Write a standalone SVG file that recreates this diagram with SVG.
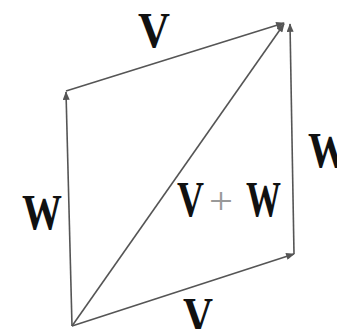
<svg xmlns="http://www.w3.org/2000/svg" width="337" height="329" viewBox="0 0 337 329">
<style>
.edge{stroke:#555;stroke-width:1.6;fill:none;marker-end:url(#ah)}
.lbl{font-family:"Liberation Serif","Times New Roman",serif;font-weight:bold;font-size:50px;fill:#111}
.plus{font-family:"Liberation Serif","Times New Roman",serif;font-size:38px;fill:#999}
</style>
<defs>
<marker id="ah" viewBox="0 0 10 8" refX="9" refY="4" markerWidth="10" markerHeight="7" markerUnits="userSpaceOnUse" orient="auto">
<path d="M0,0 L10,4 L0,8 z" fill="#555"/>
</marker>
</defs>
<rect width="337" height="329" fill="#fff"/>
<g id="connectors">
<line class="edge" x1="72" y1="326" x2="66" y2="92"/>
<line class="edge" x1="66" y1="91" x2="284" y2="23"/>
<line class="edge" x1="72" y1="326" x2="284" y2="24"/>
<line class="edge" x1="72" y1="326" x2="294" y2="254"/>
<line class="edge" x1="294" y1="254" x2="290" y2="24"/>
</g>
<g id="label-v-top"><text class="lbl" x="138" y="47" textLength="32" lengthAdjust="spacingAndGlyphs">V</text></g>
<g id="label-w-left"><text class="lbl" x="22" y="229" textLength="40" lengthAdjust="spacingAndGlyphs">W</text></g>
<g id="label-w-right"><text class="lbl" x="308" y="167" textLength="40" lengthAdjust="spacingAndGlyphs">W</text></g>
<g id="label-vw">
<text class="lbl" x="177" y="216" textLength="27" lengthAdjust="spacingAndGlyphs">V</text>
<text class="plus" x="209" y="214" textLength="24" lengthAdjust="spacingAndGlyphs">+</text>
<text class="lbl" x="246" y="216" textLength="35" lengthAdjust="spacingAndGlyphs">W</text>
</g>
<g id="label-v-bottom"><text class="lbl" x="183" y="332" textLength="30" lengthAdjust="spacingAndGlyphs">V</text></g>
</svg>
